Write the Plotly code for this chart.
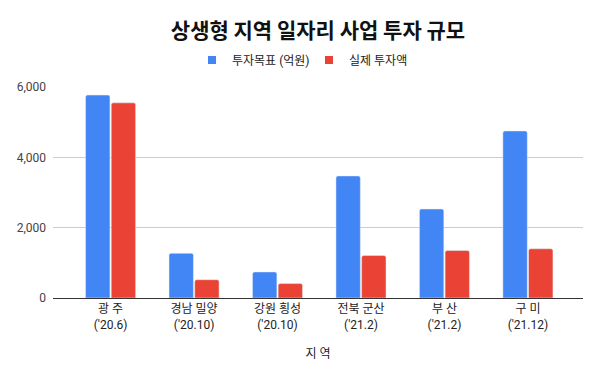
import plotly.graph_objects as go

regions = ["광 주<br>('20.6)", "경남 밀양<br>('20.10)", "강원 횡성<br>('20.10)",
           "전북 군산<br>('21.2)", "부 산<br>('21.2)", "구 미<br>('21.12)"]
target = [5770, 1270, 740, 3470, 2530, 4750]
actual = [5550, 520, 410, 1210, 1350, 1400]
series_names = ["투자목표 (억원)", "실제 투자액"]
colors = ["#4285F4", "#EA4335"]

font_family = "Roboto, 'Noto Sans CJK KR', sans-serif"

fig = go.Figure()
for vals, name, col in [(target, series_names[0], colors[0]), (actual, series_names[1], colors[1])]:
    fig.add_trace(go.Bar(x=regions, y=vals, name=name, marker_color=col, showlegend=False,
                         legendgroup=name))
for name, col in zip(series_names, colors):
    fig.add_trace(go.Scatter(x=[None], y=[None], mode="markers", name=name, legendgroup=name,
                             marker=dict(symbol="square", size=8, color=col)))

fig.update_layout(
    width=616, height=380,
    margin=dict(l=53, r=33, t=87, b=82),
    paper_bgcolor="white", plot_bgcolor="white",
    font=dict(family=font_family, size=12, color="#222"),
    title=dict(text="상생형 지역 일자리 사업 투자 규모", x=0.5, xanchor="center", xref="paper",
               y=0.92, yanchor="middle",
               font=dict(family="'Noto Sans CJK KR', sans-serif", size=21, color="#111", weight="bold")),
    barmode="group", bargap=0.385, bargroupgap=0.05, barcornerradius=2,
    legend=dict(orientation="h", x=0.483, xanchor="center", y=1.128, yanchor="middle",
                font=dict(size=12, color="#222"), itemwidth=30, entrywidth=72),
    showlegend=True,
)
fig.update_xaxes(range=[-0.69, 5.66], showgrid=False, showline=True, linecolor="#333", linewidth=1,
                 ticks="", tickfont=dict(size=12, color="#222"),
                 title=dict(text="지 역", font=dict(size=12, color="#222"), standoff=18))
fig.update_yaxes(range=[0, 6000], tickvals=[0, 2000, 4000, 6000], tickformat=",",
                 showgrid=True, gridcolor="#ccc", gridwidth=1, zeroline=False,
                 tickfont=dict(size=12, color="#444"), ticks="", ticklabelstandoff=6)

fig.write_html("out.html", post_script="document.body.style.margin='0';",
               config={"displayModeBar": False})
